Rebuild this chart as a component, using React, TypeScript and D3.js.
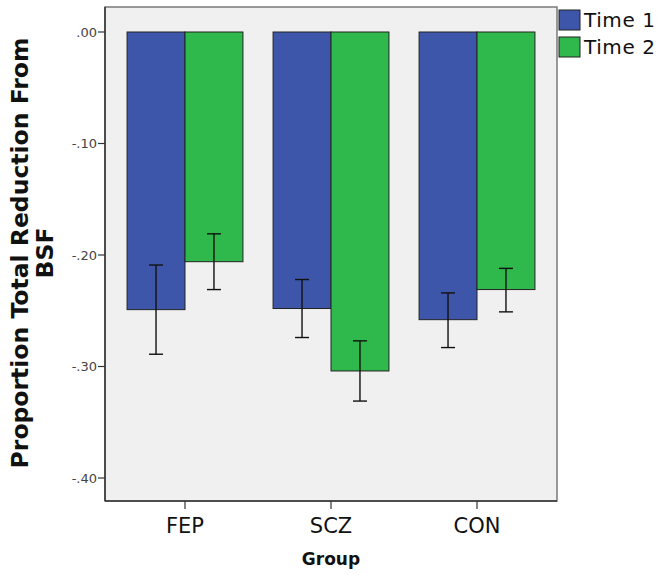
import React from "react";
import * as d3 from "d3";

const groups = ["FEP", "SCZ", "CON"];
const seriesNames = ["Time 1", "Time 2"];
const time1 = [-0.249, -0.248, -0.258];
const time2 = [-0.206, -0.304, -0.231];
const time1Lo = [-0.289, -0.274, -0.283];
const time1Hi = [-0.209, -0.222, -0.234];
const time2Lo = [-0.231, -0.331, -0.251];
const time2Hi = [-0.181, -0.277, -0.212];
const yTicks = [0, -0.1, -0.2, -0.3, -0.4];

const colors = ["#3d56a9", "#2fb84b"];

export default function App() {
  const W = 664, H = 575;
  const frame = { l: 105, t: 7, r: 557, b: 501 };
  const y = d3.scaleLinear().domain([-0.4, 0]).range([478, 32]);
  const x = d3.scaleBand<string>().domain(groups).range([112, 550]).padding(0);
  const x1 = d3.scaleBand<string>().domain(seriesNames).range([0, x.bandwidth()]).paddingInner(0).paddingOuter(0.26);
  const fmt = (v: number) =>
    d3.format(".2f")(v).replace("\u2212", "-").replace("0.", ".").replace("-.00", ".00");
  const vals = [time1, time2];
  const lo = [time1Lo, time2Lo];
  const hi = [time1Hi, time2Hi];
  const capW = 14;
  const font = "'DejaVu Sans', sans-serif";

  return (
    <svg width={W} height={H} style={{ position: "absolute", left: 0, top: 0, background: "#fff" }} fontFamily={font}>
      <rect x={frame.l} y={frame.t} width={frame.r - frame.l} height={frame.b - frame.t} fill="#f0f0f0" stroke="#7a7a7a" strokeWidth={1.5} />
      {groups.map((g, gi) =>
        seriesNames.map((s, si) => {
          const v = vals[si][gi];
          const bx = (x(g) as number) + (x1(s) as number);
          const bw = x1.bandwidth();
          return (
            <rect key={g + s} x={bx} y={y(0)} width={bw} height={y(v) - y(0)} fill={colors[si]} stroke="#222" strokeWidth={1} />
          );
        })
      )}
      {groups.map((g, gi) =>
        seriesNames.map((s, si) => {
          const cx = (x(g) as number) + (x1(s) as number) + x1.bandwidth() / 2;
          const y1 = y(hi[si][gi]);
          const y2 = y(lo[si][gi]);
          return (
            <g key={"e" + g + s} stroke="#111" strokeWidth={1.4}>
              <line x1={cx} x2={cx} y1={y1} y2={y2} />
              <line x1={cx - capW / 2} x2={cx + capW / 2} y1={y1} y2={y1} />
              <line x1={cx - capW / 2} x2={cx + capW / 2} y1={y2} y2={y2} />
            </g>
          );
        })
      )}
      <line x1={frame.l} x2={frame.l} y1={frame.t} y2={frame.b} stroke="#333" strokeWidth={1.5} />
      <line x1={frame.l} x2={frame.r} y1={frame.b} y2={frame.b} stroke="#333" strokeWidth={1.5} />
      {yTicks.map((t) => (
        <g key={t}>
          <line x1={frame.l - 7} x2={frame.l} y1={y(t)} y2={y(t)} stroke="#333" strokeWidth={1.2} />
          <text x={frame.l - 8} y={y(t)} dy="0.35em" textAnchor="end" fontSize={13} fill="#444">{fmt(t)}</text>
        </g>
      ))}
      {groups.map((g) => {
        const cx = (x(g) as number) + x.bandwidth() / 2;
        return (
          <g key={"t" + g}>
            <line x1={cx} x2={cx} y1={frame.b} y2={frame.b + 8} stroke="#333" strokeWidth={1.2} />
            <text x={cx} y={533} textAnchor="middle" fontSize={21} fill="#111">{g}</text>
          </g>
        );
      })}
      <text x={331} y={565} textAnchor="middle" fontSize={17} fontWeight="bold" fill="#111">Group</text>
      <g transform="translate(28,253) rotate(-90)">
        <text x={0} y={0} textAnchor="middle" fontSize={23.5} fontWeight="bold" fill="#111">Proportion Total Reduction From</text>
        <text x={0} y={25} textAnchor="middle" fontSize={23.5} fontWeight="bold" fill="#111">BSF</text>
      </g>
      {seriesNames.map((s, si) => (
        <g key={"l" + s}>
          <rect x={559} y={10 + si * 27} width={21} height={20} fill={colors[si]} stroke="#222" strokeWidth={1} />
          <text x={584} y={20 + si * 27} dy="0.36em" fontSize={20} letterSpacing={0.6} fill="#111">{s}</text>
        </g>
      ))}
    </svg>
  );
}
